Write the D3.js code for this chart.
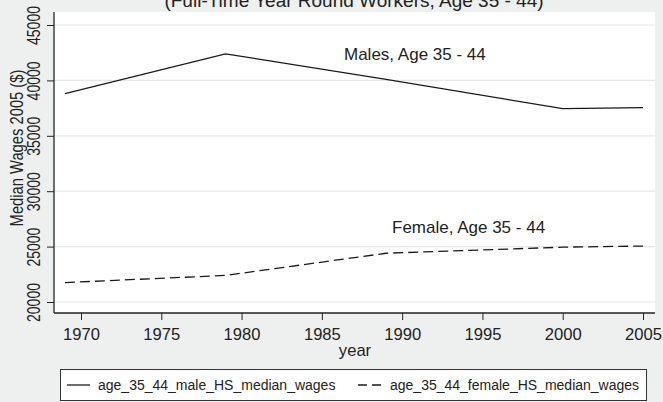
<!DOCTYPE html>
<html lang="en">
  <head>
    <meta charset="UTF-8" />
    <title>Median Wages</title>
    <script src="https://cdn.jsdelivr.net/npm/d3@7"></script>
    <style>
      body { margin: 0; background: #eef0ef; }
      text { font-family: "Liberation Sans", Arial, sans-serif; fill: #222; }
    </style>
  </head>
  <body>
    <svg id="container" width="663" height="402"></svg>
    <script>
      // data
      let years = [1969, 1979, 1989, 2000, 2005];
      let maleWages = [38800, 42400, 40100, 37450, 37550];
      let femaleWages = [21750, 22400, 24400, 24950, 25050];
      let xTicks = [1970, 1975, 1980, 1985, 1990, 1995, 2000, 2005];
      let yTicks = [20000, 25000, 30000, 35000, 40000, 45000];
      let seriesNames = ["age_35_44_male_HS_median_wages", "age_35_44_female_HS_median_wages"];

      let svg = d3.select("#container");
      let plot = { left: 54, right: 655, top: 12, bottom: 313 };

      let x = d3.scaleLinear().domain([1970, 2005]).range([81, 643]);
      let y = d3.scaleLinear().domain([20000, 45000]).range([302, 25]);

      svg.append("rect").attr("width", 663).attr("height", 402).attr("fill", "#eef0ef");
      svg.append("rect")
        .attr("x", plot.left).attr("y", plot.top)
        .attr("width", plot.right - plot.left).attr("height", plot.bottom - plot.top)
        .attr("fill", "white");

      // grid lines
      svg.selectAll(".grid").data(yTicks).enter().append("line")
        .attr("x1", plot.left).attr("x2", plot.right)
        .attr("y1", (d) => y(d)).attr("y2", (d) => y(d))
        .attr("stroke", "#e6e8e7").attr("stroke-width", 1.2);

      // title (the top of it is cut off, as in the original)
      svg.append("text").attr("x", 354).attr("y", 7)
        .attr("text-anchor", "middle").attr("font-size", 19)
        .text("(Full-Time Year Round Workers, Age 35 - 44)");

      // y axis
      let yAxis = svg.append("g").attr("transform", `translate(${plot.left},0)`)
        .call(d3.axisLeft(y).tickValues(yTicks).tickSize(7).tickFormat(d3.format("d")));
      yAxis.select(".domain").remove();
      yAxis.selectAll(".tick line").attr("stroke", "#222");
      yAxis.selectAll(".tick text")
        .attr("x", null).attr("dy", null)
        .attr("text-anchor", "middle")
        .attr("font-size", 18)
        .attr("transform", "translate(-14,0) rotate(-90) scale(0.78,1)");
      svg.append("line")
        .attr("x1", plot.left).attr("x2", plot.left)
        .attr("y1", plot.top).attr("y2", plot.bottom)
        .attr("stroke", "#222").attr("stroke-width", 1.3);

      svg.append("text")
        .attr("transform", "translate(23,148) rotate(-90) scale(0.82,1)")
        .attr("text-anchor", "middle").attr("font-size", 18)
        .text("Median Wages 2005 ($)");

      // x axis
      let xAxis = svg.append("g").attr("transform", `translate(0,${plot.bottom})`)
        .call(d3.axisBottom(x).tickValues(xTicks).tickSize(7).tickFormat(d3.format("d")));
      xAxis.select(".domain").remove();
      xAxis.selectAll(".tick line").attr("stroke", "#222");
      xAxis.selectAll(".tick text").attr("y", 27).attr("dy", null).attr("font-size", 16.6);
      svg.append("line")
        .attr("x1", plot.left).attr("x2", plot.right)
        .attr("y1", plot.bottom).attr("y2", plot.bottom)
        .attr("stroke", "#222").attr("stroke-width", 1.3);

      svg.append("text").attr("x", 355).attr("y", 356)
        .attr("text-anchor", "middle").attr("font-size", 16.6).text("year");

      // lines
      let line = d3.line().x((d) => x(d[0])).y((d) => y(d[1]));
      svg.append("path")
        .attr("d", line(d3.zip(years, maleWages)))
        .attr("fill", "none").attr("stroke", "#1a1a1a").attr("stroke-width", 1.3);
      svg.append("path")
        .attr("d", line(d3.zip(years, femaleWages)))
        .attr("fill", "none").attr("stroke", "#1a1a1a").attr("stroke-width", 1.3)
        .attr("stroke-dasharray", "10,5");

      // labels on the lines
      svg.append("text").attr("x", 344).attr("y", 60).attr("font-size", 17).text("Males, Age 35 - 44");
      svg.append("text").attr("x", 392).attr("y", 233).attr("font-size", 17).text("Female, Age 35 - 44");

      // legend
      let legend = svg.append("g");
      legend.append("rect").attr("x", 60.5).attr("y", 369.5).attr("width", 586).attr("height", 31)
        .attr("fill", "white").attr("stroke", "#333");
      let items = [
        { name: seriesNames[0], x0: 67, dash: null, tx: 98 },
        { name: seriesNames[1], x0: 358, dash: "9,5", tx: 390 },
      ];
      items.forEach((it) => {
        legend.append("line")
          .attr("x1", it.x0).attr("x2", it.x0 + 23).attr("y1", 385).attr("y2", 385)
          .attr("stroke", "#1a1a1a").attr("stroke-width", 1.3)
          .attr("stroke-dasharray", it.dash);
        legend.append("text").attr("x", it.tx).attr("y", 390).attr("font-size", 14).text(it.name);
      });
    </script>
  </body>
</html>
